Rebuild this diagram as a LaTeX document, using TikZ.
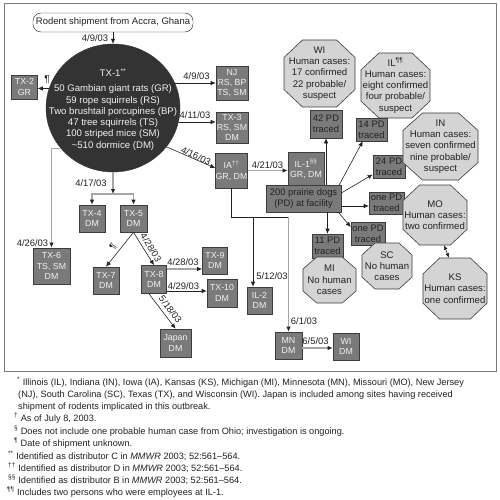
\documentclass[tikz,border=0pt]{standalone}
\usepackage{fontspec}
\setmainfont{Liberation Sans}
\usetikzlibrary{arrows.meta,calc,shapes.geometric}
\definecolor{boxg}{HTML}{7A7A7A}
\definecolor{boxd}{HTML}{3C3C3C}
\definecolor{octf}{HTML}{D4D4D4}
\definecolor{circf}{HTML}{333333}
\definecolor{lineg}{HTML}{A6A6A6}
\definecolor{frameg}{HTML}{7A7A7A}
\definecolor{txtw}{HTML}{F2F2F2}
\definecolor{ink}{HTML}{222222}
\tikzset{
 tbox/.style={draw=boxd, fill=boxg, text=txtw, align=center, inner sep=0pt, line width=0.6pt, font=\fontsize{8.8}{10.2}\selectfont},
 pbox/.style={draw=boxd, fill=boxg, text=ink, align=center, inner sep=0pt, line width=0.6pt, font=\fontsize{9.4}{11}\selectfont},
 octshape/.style={draw=boxd, fill=octf, line width=0.6pt},
 octtext/.style={inner sep=0pt, align=center, text=ink, font=\fontsize{9.6}{11.3}\selectfont},
 lbl/.style={inner sep=0.8pt, text=ink, font=\fontsize{9.4}{10}\selectfont},
 arr/.style={draw=ink, line width=0.6pt, -{Latex[length=5pt,width=4.5pt]}},
 garr/.style={draw=lineg, line width=1.1pt, -{Latex[length=5pt,width=4.5pt,color=ink]}},
 bline/.style={draw=ink, line width=0.6pt},
 fn/.style={anchor=base west, inner sep=0pt, text=ink, font=\fontsize{9.2}{11}\selectfont},
}
\newcommand{\octo}[6]{%
  \begin{scope}[shift={(#2,#3)}]
    \filldraw[octshape] (-#4/2,-0.24*#5) -- (-0.24*#4,-#5/2) -- (0.24*#4,-#5/2) -- (#4/2,-0.24*#5) -- (#4/2,0.24*#5) -- (0.24*#4,#5/2) -- (-0.24*#4,#5/2) -- (-#4/2,0.24*#5) -- cycle;
    \node[octtext, minimum width=#4pt, minimum height=#5pt] (#1) at (0,0) {#6};
  \end{scope}}
\begin{document}
\begin{tikzpicture}[x=1pt,y=-1pt]
\useasboundingbox (0,0) rectangle (499,500);
\fill[white] (0,0) rectangle (499,500);
\draw[frameg, line width=0.8pt] (4,3) rectangle (496,371);

% source and distributor
\node[draw=ink, fill=white, rounded corners=8pt, minimum width=160pt, minimum height=19pt, inner sep=0pt, text=ink, font=\fontsize{9.5}{11}\selectfont] (src) at (113,22.5) {Rodent shipment from Accra, Ghana};
\node[ellipse, fill=circf, draw=circf, minimum width=134pt, minimum height=128pt, inner sep=0pt] (tx1) at (113,108) {};
\node[inner sep=0pt, align=center, text=txtw, font=\fontsize{9.6}{11.3}\selectfont] (tx1t) at (113,109.5) {TX-1\textsuperscript{**}\\[3.5pt]50 Gambian giant rats (GR)\\59 rope squirrels (RS)\\Two brushtail porcupines (BP)\\47 tree squirrels (TS)\\100 striped mice (SM)\\\textasciitilde510 dormice (DM)};

% grey boxes
\node[tbox, minimum width=26pt, minimum height=24pt] (tx2) at (24.5,87) {TX-2\\GR};
\node[tbox, minimum width=32pt, minimum height=34pt] (nj) at (232,83) {NJ\\RS, BP\\TS, SM};
\node[tbox, minimum width=32pt, minimum height=31pt] (tx3) at (232,127.5) {TX-3\\RS, SM\\DM};
\node[tbox, minimum width=32pt, minimum height=35pt] (ia) at (231.5,170.5) {IA\textsuperscript{††}\\GR, DM};
\node[tbox, minimum width=36pt, minimum height=33pt] (il1) at (306,169) {IL-1\textsuperscript{§§}\\GR, DM};
\node[tbox, minimum width=26pt, minimum height=27pt] (tx4) at (92,218.5) {TX-4\\DM};
\node[tbox, minimum width=27pt, minimum height=27pt] (tx5) at (133.5,218.5) {TX-5\\DM};
\node[tbox, minimum width=37pt, minimum height=36pt] (tx6) at (51.5,266) {TX-6\\TS, SM\\DM};
\node[tbox, minimum width=26pt, minimum height=27pt] (tx7) at (106,280.5) {TX-7\\DM};
\node[tbox, minimum width=25pt, minimum height=28pt] (tx8) at (154,279.5) {TX-8\\DM};
\node[tbox, minimum width=25pt, minimum height=27pt] (tx9) at (215,260.5) {TX-9\\DM};
\node[tbox, minimum width=30pt, minimum height=28pt] (tx10) at (222,293) {TX-10\\DM};
\node[tbox, minimum width=31pt, minimum height=28pt] (jp) at (175.5,343) {Japan\\DM};
\node[tbox, minimum width=25pt, minimum height=27pt] (il2) at (259.5,300.5) {IL-2\\DM};
\node[tbox, minimum width=27pt, minimum height=27pt] (mn) at (288.5,345.5) {MN\\DM};
\node[tbox, minimum width=26pt, minimum height=27pt] (widm) at (346,346.5) {WI\\DM};

% prairie dogs
\node[pbox, minimum width=75pt, minimum height=27pt] (pd) at (303.5,198.5) {200 prairie dogs\\(PD) at facility};
\node[pbox, minimum width=32pt, minimum height=28pt] (pd42) at (326,124) {42 PD\\traced};
\node[pbox, minimum width=31pt, minimum height=23pt] (pd14) at (371.5,129.5) {14 PD\\traced};
\node[pbox, minimum width=32pt, minimum height=23pt] (pd24) at (389,166.5) {24 PD\\traced};
\node[pbox, minimum width=35pt, minimum height=22pt] (pdmo) at (386.5,203) {one PD\\traced};
\node[pbox, minimum width=34pt, minimum height=23pt] (pdsc) at (368,233.5) {one PD\\traced};
\node[pbox, minimum width=31pt, minimum height=24pt] (pd11) at (327.5,246) {11 PD\\traced};

% octagons
\octo{wi}{319.5}{73.5}{71}{67}{WI\\Human cases:\\17 confirmed\\22 probable/\\suspect}
\octo{il}{395.5}{85.5}{69}{65}{IL\textsuperscript{¶¶}\\Human cases:\\eight confirmed\\four probable/\\suspect}
\octo{in}{440.5}{146.5}{75}{67}{IN\\Human cases:\\seven confirmed\\nine probable/\\suspect}
\octo{mo}{435}{215}{64}{60}{MO\\Human cases:\\two confirmed}
\octo{ks}{455}{288.5}{64}{61}{KS\\Human cases:\\one confirmed}
\octo{sc}{387}{266}{50}{46}{SC\\No human\\cases}
\octo{mi}{329.5}{280}{53}{46}{MI\\No human\\cases}

% connectors from the source and TX-1
\draw[arr] (src.south) -- (tx1.north);
\node[lbl] (d0) at (95,38) {4/9/03};
\draw[arr] (tx1.163.5) -- (tx1.163.5 -| tx2.east);
\node[lbl, font=\fontsize{10}{10}\selectfont] (d1) at (47,80) {¶};
\draw[arr] (tx1.22) -- (tx1.22 -| nj.west);
\node[lbl] (d2) at (196.5,76) {4/9/03};
\draw[arr] (tx1.-12) -- (tx1.-12 -| tx3.west);
\node[lbl] (d3) at (195,115.5) {4/11/03};
\coordinate (iain) at ([yshift=2.5pt]ia.west);
\draw[arr] (tx1.-36) -- (iain);
\node[lbl, rotate=-24.6, inner sep=0pt] (d4) at (196,156) {4/16/03};
\draw[garr] (tx1.218) -| (tx6.north);
\node[lbl] (d5) at (32.5,243) {4/26/03};
\coordinate (bar) at (113,194);
\draw[garr] (tx1.south) -- (bar);
\node[lbl] (d6) at (91,183) {4/17/03};
\draw[garr] (bar) -| (tx4.north);
\draw[garr] (bar) -| (tx5.north);

% TX-5 and TX-8 onward
\draw[arr] (tx5.south) -- (tx7.north);
\node[lbl, rotate=51.8, inner sep=0pt] (d7) at (113,247) {¶};
\draw[arr] (tx5.south) -- (tx8.north);
\node[lbl, rotate=-58.2, inner sep=0pt] (d8) at (151,247.5) {4/28/03};
\coordinate (t89) at ([yshift=10.5pt]tx8.east);
\draw[garr] (t89) -- (t89 -| tx9.west);
\node[lbl] (d9) at (183,262) {4/28/03};
\coordinate (t810) at ([yshift=-11.5pt]tx8.east);
\draw[arr] (t810) -- (t810 -| tx10.west);
\node[lbl] (d10) at (183.5,286) {4/29/03};
\draw[arr] ([xshift=-5pt]tx8.south) -- (jp.north);
\node[lbl, rotate=-53.3, inner sep=0pt] (d11) at (170.5,309.5) {5/18/03};

% IA onward
\draw[garr] (ia.east) -- (ia.east -| il1.west);
\node[lbl] (d12) at (267.5,165) {4/21/03};
\coordinate (jn) at (231.5,217);
\draw[bline] (ia.south) -- (jn) -- (jn -| mn.north);
\coordinate (il2in) at ([xshift=-6.5pt]il2.north);
\draw[arr] (il2in |- jn) -- (il2in);
\node[lbl] (d13) at (272,276) {5/12/03};
\draw[garr] (mn.north |- jn) -- (mn.north);
\node[lbl] (d14) at (304,321) {6/1/03};
\coordinate (mnout) at ([yshift=-2.5pt]mn.east);
\draw[garr] (mnout) -- (mnout -| widm.west);
\node[lbl] (d15) at (315.5,341) {6/5/03};

% prairie dog trace-forward
\draw[arr] (pd.north -| pd42.south) -- (pd42.south);
\draw[arr] ([xshift=-2pt]pd.north east) -- ([xshift=7pt]pd14.south west);
\draw[arr] ([yshift=5.5pt]pd.east) -- ([yshift=-8pt]pd24.west);
\coordinate (mo1) at ([yshift=-3pt]pdmo.west);
\draw[arr] (mo1 -| pd.east) -- (mo1);
\draw[arr] (pd.south -| pd11.north) -- (pd11.north);
\draw[arr] ([xshift=-3pt]pd.south east) -- ([yshift=6.5pt]pdsc.west);
\draw[draw=ink, line width=0.6pt, {Latex[length=4.5pt,width=4pt]}-{Latex[length=4.5pt,width=4pt]}] ([xshift=9pt]mo.south) -- ([xshift=-6pt]ks.north);

% footnotes
\node[fn] (f1) at (17,385) {\textsuperscript{*} Illinois (IL), Indiana (IN), Iowa (IA), Kansas (KS), Michigan (MI), Minnesota (MN), Missouri (MO), New Jersey};
\node[fn] (f2) at (18,397.3) {(NJ), South Carolina (SC), Texas (TX), and Wisconsin (WI). Japan is included among sites having received};
\node[fn] (f3) at (18,409.5) {shipment of rodents implicated in this outbreak.};
\node[fn] (f4) at (14,421.5) {\textsuperscript{†} As of July 8, 2003.};
\node[fn] (f5) at (14,434) {\textsuperscript{§} Does not include one probable human case from Ohio; investigation is ongoing.};
\node[fn] (f6) at (14,446.3) {\textsuperscript{¶} Date of shipment unknown.};
\node[fn] (f7) at (8,459) {\textsuperscript{**} Identified as distributor C in \textit{MMWR} 2003; 52:561–564.};
\node[fn] (f8) at (8,471.3) {\textsuperscript{††} Identified as distributor D in \textit{MMWR} 2003; 52:561–564.};
\node[fn] (f9) at (8,483.5) {\textsuperscript{§§} Identified as distributor B in \textit{MMWR} 2003; 52:561–564.};
\node[fn] (f10) at (7,495.5) {\textsuperscript{¶¶} Includes two persons who were employees at IL-1.};
\end{tikzpicture}
\end{document}
